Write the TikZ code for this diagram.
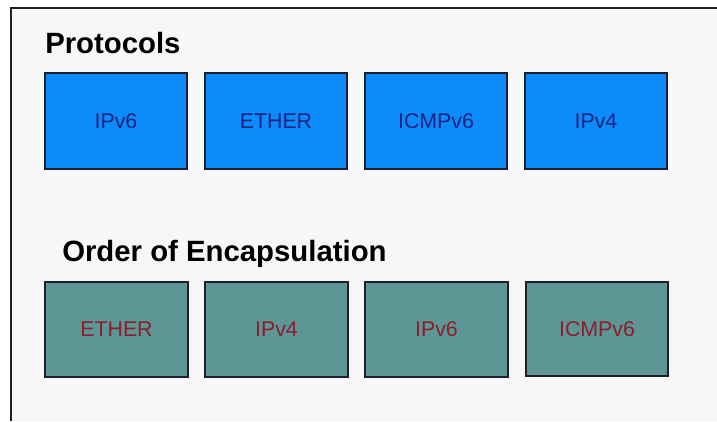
\documentclass[tikz,border=0pt]{standalone}
\usepackage{fontspec}
\setmainfont{Liberation Sans}
\definecolor{protoblue}{RGB}{12,140,250}
\definecolor{ordergrey}{RGB}{94,150,150}
\definecolor{panel}{RGB}{247,247,247}
\definecolor{navytext}{RGB}{25,35,130}
\definecolor{redtext}{RGB}{140,30,45}
\definecolor{edge}{RGB}{30,30,45}
\begin{document}
\begin{tikzpicture}[x=0.75pt,y=-0.75pt]
\tikzstyle{every node}=[font=\fontsize{16}{19}\selectfont]
\tikzstyle{proto}=[draw=edge, line width=1.4pt, fill=protoblue, text=navytext, minimum width=107pt, minimum height=72pt, inner sep=0pt]
\tikzstyle{order}=[draw=edge, line width=1.4pt, fill=ordergrey, text=redtext, minimum width=107pt, minimum height=71pt, inner sep=0pt]
\tikzstyle{heading}=[anchor=base west, inner sep=0pt, font=\fontsize{22}{25}\selectfont\bfseries]
\useasboundingbox (0,0) rectangle (717,421);
% panel
\fill[white] (0,0) rectangle (717,421);
\fill[panel] (11,8) rectangle (717,421);
\draw[line width=1.5pt, edge] (11,421) -- (11,8) -- (717,8);
% protocols
\node[heading] (protohead) at (45,53) {Protocols};
\node[proto] (pipv6) at (116,121) {IPv6};
\node[proto] (pether) at (276,121) {ETHER};
\node[proto] (picmp) at (436,121) {ICMPv6};
\node[proto] (pipv4) at (596,121) {IPv4};
% order of encapsulation
\node[heading] (orderhead) at (62,261) {Order of Encapsulation};
\node[order] (oether) at (116.5,329.5) {ETHER};
\node[order] (oipv4) at (276.5,329.5) {IPv4};
\node[order] (oipv6) at (436.5,329.5) {IPv6};
\node[order] (oicmp) at (597,329) {ICMPv6};
\end{tikzpicture}
\end{document}
